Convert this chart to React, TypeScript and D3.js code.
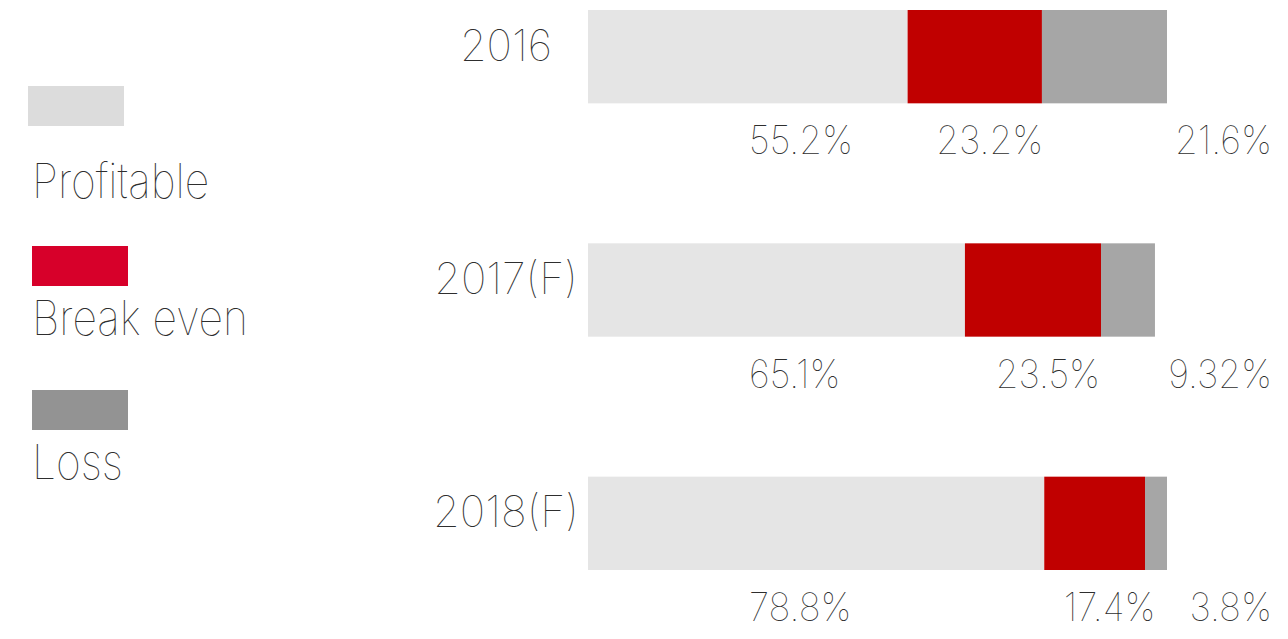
import React from "react";
import * as d3 from "d3";

const categories = ["2016", "2017(F)", "2018(F)"];
const profitable = [55.2, 65.1, 78.8];
const breakEven = [23.2, 23.5, 17.4];
const loss = [21.6, 9.32, 3.8];
const labels = [
  ["55.2%", "23.2%", "21.6%"],
  ["65.1%", "23.5%", "9.32%"],
  ["78.8%", "17.4%", "3.8%"],
];
const seriesNames = ["Profitable", "Break even", "Loss"];
const barColors = ["#e5e5e5", "#c00000", "#a6a6a6"];
const legendColors = ["#dcdcdc", "#d7002a", "#939393"];

const W = 1288;
const H = 639;
const FONT = "Inter, Roboto, sans-serif";
const TEXT = "#2e2e2e";

export default function App() {
  const x = d3.scaleLinear().domain([0, 100]).range([588, 1167]);
  const y = d3.scaleBand().domain(categories).range([10, 570]).paddingInner(0.6).paddingOuter(0);
  const legendY = d3.scalePoint().domain(seriesNames).range([86, 390]);

  const rows = categories.map((c, i) => {
    const vals = [profitable[i], breakEven[i], loss[i]];
    let acc = 0;
    const segs = vals.map((v, k) => {
      const s = { x0: acc, x1: acc + v, k };
      acc += v;
      return s;
    });
    return { c, i, segs };
  });

  return (
    <svg width={W} height={H} style={{ position: "absolute", left: 0, top: 0, background: "#fff" }}>
      {seriesNames.map((n, k) => {
        const ly = legendY(n)! + (k === 1 ? 8 : 0);
        const lx = k === 0 ? 28 : 32;
        return (
          <g key={n}>
            <rect x={lx} y={ly} width={96} height={40} fill={legendColors[k]} />
            <text
              transform={`translate(32,${ly + (k === 0 ? 112 : 89)}) scale(0.89,1)`}
              fontFamily={FONT}
              fontWeight={100}
              fontSize={48}
              fill={TEXT}
            >
              {n}
            </text>
          </g>
        );
      })}
      {rows.map((r) => {
        const by = y(r.c)!;
        const bh = y.bandwidth();
        return (
          <g key={r.c}>
            {r.segs.map((s) => (
              <rect
                key={s.k}
                x={x(s.x0)}
                y={by}
                width={x(s.x1) - x(s.x0)}
                height={bh}
                fill={barColors[s.k]}
              />
            ))}
            <text
              transform={`translate(506,${by + bh / 2 + 4})`}
              textAnchor="middle"
              fontFamily={FONT}
              fontWeight={100}
              fontSize={43}
              fill={TEXT}
            >
              {r.c}
            </text>
            {r.segs.map((s) => {
              let tx: number;
              let anchor: string;
              if (s.k === 0) {
                tx = 749;
                anchor = "start";
              } else if (s.k === 1) {
                tx = (x(s.x0) + x(s.x1)) / 2 + 15;
                anchor = "middle";
              } else {
                tx = 1272;
                anchor = "end";
              }
              return (
                <text
                  key={"l" + s.k}
                  transform={`translate(${tx},${by + bh + 51}) scale(0.94,1)`}
                  textAnchor={anchor}
                  fontFamily={FONT}
                  fontWeight={100}
                  fontSize={39}
                  fill={TEXT}
                >
                  {labels[r.i][s.k]}
                </text>
              );
            })}
          </g>
        );
      })}
    </svg>
  );
}
